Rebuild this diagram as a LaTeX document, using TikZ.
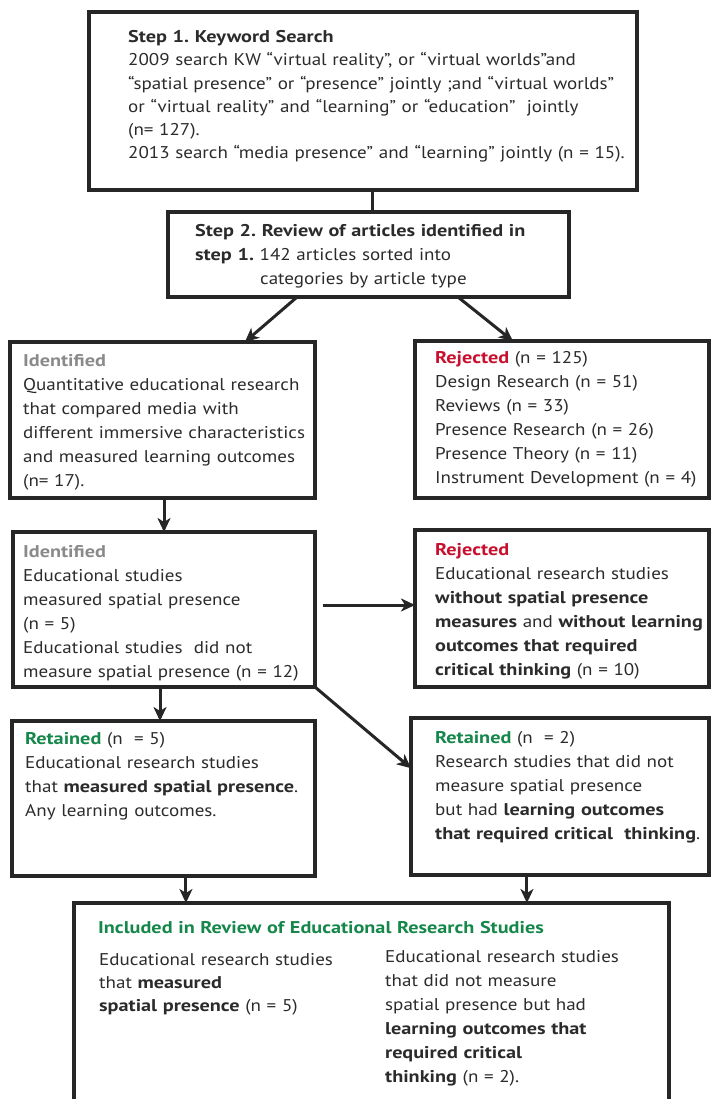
\documentclass[tikz,border=0pt]{standalone}
\usepackage{fontspec}
\setmainfont{PT Sans}[FakeStretch=1.12,BoldFeatures={FakeStretch=1.19}]
\usetikzlibrary{arrows.meta,calc}
\definecolor{ink}{HTML}{2B2B2B}
\definecolor{idgray}{HTML}{8A8A8A}
\definecolor{rejred}{HTML}{C8102E}
\definecolor{retgreen}{HTML}{15874A}
\definecolor{edge}{HTML}{262626}
\newcommand\bodyfont{\fontsize{17}{24}\selectfont}
\newcommand\idf[1]{\textcolor{idgray}{\textbf{#1}}}
\newcommand\rjf[1]{\textcolor{rejred}{\textbf{#1}}}
\newcommand\rtf[1]{\textcolor{retgreen}{\textbf{#1}}}
\frenchspacing
\begin{document}
\begin{tikzpicture}[x=1pt,y=-1pt,
  box/.style={draw=edge, line width=3.2pt, inner sep=0pt, outer sep=0pt},
  txt/.style={anchor=base west, inner sep=0pt, text width=620pt, align=left, font=\bodyfont, text=ink},
  arr/.style={draw=edge, line width=3pt, -{Stealth[length=14pt,width=13pt,inset=4pt]}},
  link/.style={draw=edge, line width=3pt}]
\useasboundingbox (0,0) rectangle (712,1099);
% boxes
\node[box, minimum width=548pt, minimum height=178pt] (b1) at (363,101) {};
\node[box, minimum width=401pt, minimum height=85pt] (b2) at (368.5,254.5) {};
\node[box, minimum width=305pt, minimum height=156pt] (b3) at (162.5,420) {};
\node[box, minimum width=294pt, minimum height=157pt] (b4) at (562,419.5) {};
\node[box, minimum width=302pt, minimum height=155pt] (b5) at (164,609.5) {};
\node[box, minimum width=294pt, minimum height=157pt] (b6) at (562,608.5) {};
\node[box, minimum width=303pt, minimum height=155pt] (b7) at (163.5,798.5) {};
\node[box, minimum width=298pt, minimum height=157pt] (b8) at (560,796.5) {};
\node[box, minimum width=595pt, minimum height=212pt] (b9) at (371.5,1009) {};
% texts
\node[txt, font=\fontsize{17}{23.3}\selectfont] (t1) at (128,42.5) {\textbf{Step 1. Keyword Search}\\
2009 search KW “virtual reality”, or “virtual worlds”and\\
“spatial presence” or “presence” jointly ;and “virtual worlds”\\
or “virtual reality” and “learning” or “education”~ jointly\\
(n= 127).\\
2013 search “media presence” and “learning” jointly (n = 15).};
\node[txt] (t2) at (195,236.5) {\textbf{Step 2. Review of articles identified in}\\
\textbf{step 1.} 142 articles sorted into\\
\hspace*{65pt}categories by article type};
\node[txt] (t3) at (23,366.5) {\idf{Identified}\\
Quantitative educational research\\
that compared media with\\
different immersive characteristics\\
and measured learning outcomes\\
(n= 17).};
\node[txt] (t4) at (435,363.5) {\rjf{Rejected} (n = 125)\\
Design Research (n = 51)\\
Reviews (n = 33)\\
Presence Research (n = 26)\\
Presence Theory (n = 11)\\
Instrument Development (n = 4)};
\node[txt] (t5) at (23,557.5) {\idf{Identified}\\
Educational studies\\
measured spatial presence\\
(n = 5)\\
Educational studies~ did not\\
measure spatial presence (n = 12)};
\node[txt] (t6) at (435,555.5) {\rjf{Rejected}\\
Educational research studies\\
\textbf{without spatial presence}\\
\textbf{measures} and \textbf{without learning}\\
\textbf{outcomes that required}\\
\textbf{critical thinking} (n = 10)};
\node[txt] (t7) at (25,744.5) {\rtf{Retained} (n ~= 5)\\
Educational research studies\\
that \textbf{measured spatial presence}.\\
Any learning outcomes.};
\node[txt] (t8) at (435,743.5) {\rtf{Retained} (n ~= 2)\\
Research studies that did not\\
measure spatial presence\\
but had \textbf{learning outcomes}\\
\textbf{that required critical~ thinking}.};
\node[txt] (t9) at (98,933.5) {\rtf{Included in Review of Educational Research Studies}};
\node[txt, font=\fontsize{17}{23}\selectfont] (t9l) at (99,965.5) {Educational research studies\\
that \textbf{measured}\\
\textbf{spatial presence} (n = 5)};
\node[txt] (t9r) at (385,962.5) {Educational research studies\\
that did not measure\\
spatial presence but had\\
\textbf{learning outcomes that}\\
\textbf{required critical}\\
\textbf{thinking} (n = 2).};
% connectors
\coordinate (s2) at ([xshift=3.5pt]b2.north);
\draw[link] (s2) -- (s2 |- b1.south);
\draw[arr] ($(b2.south west)!0.322!(b2.south east)$) -- ($(b3.north west)!0.770!(b3.north east)$);
\draw[arr] ($(b2.south west)!0.723!(b2.south east)$) -- ($(b4.north west)!0.333!(b4.north east)$);
\draw[arr] (b5.north |- b3.south) -- (b5.north);
\draw[arr] ([xshift=8pt,yshift=4.5pt]b5.east) -- ([yshift=3.5pt]b6.west);
\coordinate (s5) at ([xshift=-4pt]b5.south);
\draw[arr] (s5) -- (s5 |- b7.north);
\draw[arr] (b5.south east) -- ($(b8.north west)!0.32!(b8.south west)$);
\coordinate (s7) at ($(b7.south west)!0.574!(b7.south east)$);
\draw[arr] (s7) -- (s7 |- b9.north);
\coordinate (s8) at ($(b8.south west)!0.389!(b8.south east)$);
\draw[arr] (s8) -- (s8 |- b9.north);
\end{tikzpicture}
\end{document}
